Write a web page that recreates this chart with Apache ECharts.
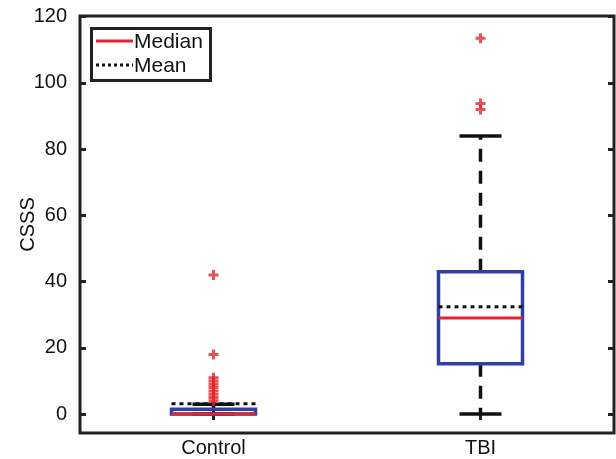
<!DOCTYPE html>
<html>
<head>
<meta charset="utf-8">
<script src="https://cdn.jsdelivr.net/npm/echarts@6/dist/echarts.min.js"></script>
<style>html,body{margin:0;padding:0;background:#fff}#c{width:616px;height:459px}</style>
</head>
<body>
<div id="c"></div>
<script>
// ---- data ----
var categories = ['Control', 'TBI'];
// [lowerWhisker, q1, median, q3, upperWhisker]
var controlBox = [0, 0, 0, 1.5, 3];
var tbiBox = [0, 15.2, 29, 43, 84];
var means = [3.1, 32.4];
var controlOutliers = [4, 5, 6, 7, 8, 9, 10, 11, 18, 42];
var tbiOutliers = [92, 93.8, 113.5];
var yTicks = [0, 20, 40, 60, 80, 100, 120];

var boxes = [controlBox, tbiBox];
var boxData = boxes.map(function (b, i) { return [i].concat(b).concat([means[i]]); });
var outlierData = [];
controlOutliers.forEach(function (v) { outlierData.push([0, v]); });
tbiOutliers.forEach(function (v) { outlierData.push([1, v]); });

var FONT = "'Liberation Sans', Arial, sans-serif";
var chart = echarts.init(document.getElementById('c'), null, { renderer: 'canvas' });

function renderBox(params, api) {
  var x = api.value(0);
  var lw = api.value(1), q1 = api.value(2), med = api.value(3), q3 = api.value(4), uw = api.value(5), mn = api.value(6);
  var p = function (v) { return api.coord([x, v]); };
  var cx = p(0)[0];
  var half = 42, capHalf = 21;
  var yLw = p(lw)[1], yQ1 = p(q1)[1], yMed = p(med)[1], yQ3 = p(q3)[1], yUw = p(uw)[1], yMn = p(mn)[1];
  var black = '#111';
  return {
    type: 'group',
    children: [
      { type: 'line', shape: { x1: cx, y1: yQ1, x2: cx, y2: yLw }, style: { stroke: black, lineWidth: 3.5, lineDash: [13, 9] } },
      { type: 'line', shape: { x1: cx, y1: yQ3, x2: cx, y2: yUw }, style: { stroke: black, lineWidth: 3.5, lineDash: [13, 9] } },
      { type: 'line', shape: { x1: cx - capHalf, y1: yLw, x2: cx + capHalf, y2: yLw }, style: { stroke: black, lineWidth: 3.5 } },
      { type: 'line', shape: { x1: cx - capHalf, y1: yUw, x2: cx + capHalf, y2: yUw }, style: { stroke: black, lineWidth: 3.5 } },
      { type: 'rect', shape: { x: cx - half, y: yQ3, width: 2 * half, height: Math.max(yQ1 - yQ3, 0.5) }, style: { stroke: '#2f3fa6', fill: 'none', lineWidth: 3.5 } },
      { type: 'line', shape: { x1: cx - half, y1: yMed, x2: cx + half, y2: yMed }, style: { stroke: '#e4262c', lineWidth: 3 } },
      { type: 'line', shape: { x1: cx - half, y1: yMn, x2: cx + half, y2: yMn }, style: { stroke: black, lineWidth: 3, lineDash: [4, 4] } }
    ]
  };
}

var option = {
  backgroundColor: '#ffffff',
  animation: false,
  grid: { left: 80, right: 2, top: 16, bottom: 26, show: true, borderColor: '#222', borderWidth: 3, backgroundColor: 'transparent', outerBoundsMode: 'none', containLabel: false },
  xAxis: [
    {
      type: 'category', data: categories, boundaryGap: true, position: 'bottom',
      axisLine: { show: false },
      axisTick: { show: true, inside: true, alignWithLabel: true, length: 6, lineStyle: { color: '#222', width: 3 } },
      axisLabel: { color: '#111', fontSize: 20, fontFamily: FONT, margin: 5 },
      splitLine: { show: false }
    },
    {
      type: 'category', data: categories, boundaryGap: true, position: 'top',
      axisLine: { show: false },
      axisTick: { show: true, inside: true, alignWithLabel: true, length: 6, lineStyle: { color: '#222', width: 3 } },
      axisLabel: { show: false },
      splitLine: { show: false }
    }
  ],
  yAxis: [
    {
      type: 'value', min: -5.7, max: 120.2, position: 'left',
      name: 'CSSS', nameLocation: 'middle', nameGap: 42, nameRotate: 90, nameMoveOverlap: false,
      nameTextStyle: { color: '#111', fontSize: 20, fontFamily: FONT },
      axisLine: { show: false },
      axisTick: { show: true, inside: true, length: 6, customValues: yTicks, lineStyle: { color: '#222', width: 3 } },
      axisLabel: { color: '#111', fontSize: 20, fontFamily: FONT, margin: 13, customValues: yTicks },
      splitLine: { show: false }
    },
    {
      type: 'value', min: -5.7, max: 120.2, position: 'right',
      axisLine: { show: false },
      axisTick: { show: true, inside: true, length: 6, customValues: yTicks, lineStyle: { color: '#222', width: 3 } },
      axisLabel: { show: false },
      splitLine: { show: false }
    }
  ],
  series: [
    {
      type: 'custom', name: 'box', xAxisIndex: 0, yAxisIndex: 0,
      renderItem: renderBox,
      encode: { x: 0, y: [1, 2, 3, 4, 5, 6] },
      data: boxData, z: 2
    },
    {
      type: 'scatter', name: 'outliers', xAxisIndex: 0, yAxisIndex: 0,
      symbol: 'path://M3.5,0H6.5V3.5H10V6.5H6.5V10H3.5V6.5H0V3.5H3.5Z',
      symbolSize: 10,
      itemStyle: { color: '#e4262c' },
      data: outlierData, z: 3
    }
  ],
  graphic: [
    { type: 'rect', left: 90, top: 27, shape: { x: 0, y: 0, width: 119, height: 52 }, style: { fill: '#fff', stroke: '#222', lineWidth: 3 }, z: 10 },
    { type: 'line', shape: { x1: 96, y1: 41, x2: 133, y2: 41 }, style: { stroke: '#e4262c', lineWidth: 3 }, z: 11 },
    { type: 'line', shape: { x1: 96, y1: 65, x2: 133, y2: 65 }, style: { stroke: '#111', lineWidth: 3, lineDash: [3, 3] }, z: 11 },
    { type: 'text', x: 134, y: 42, style: { text: 'Median', fill: '#111', font: '21px ' + FONT, verticalAlign: 'middle', align: 'left' }, z: 11 },
    { type: 'text', x: 134, y: 66, style: { text: 'Mean', fill: '#111', font: '21px ' + FONT, verticalAlign: 'middle', align: 'left' }, z: 11 }
  ]
};
chart.setOption(option);
</script>
</body>
</html>
